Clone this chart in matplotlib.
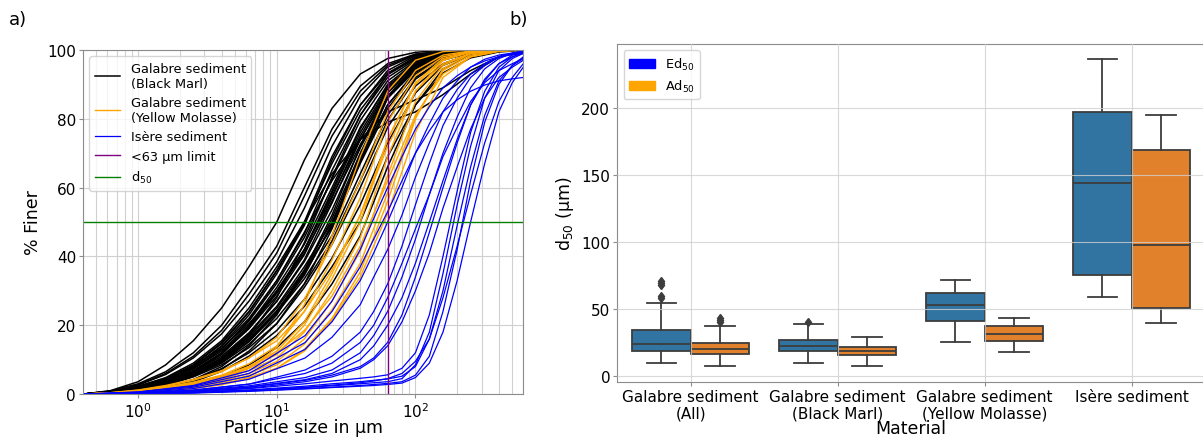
import matplotlib.pyplot as plt
from matplotlib.patches import Patch

# ========================
# DATA
# ========================
# particle size grids (µm) and % finer read off panel a)
SIZES = [0.4, 0.63, 1, 1.58, 2.5, 4, 6.3, 10, 15.8, 25, 40, 63, 100, 158, 250, 400, 600]
SIZES_ISERE = [0.4, 1, 2.5, 6.3, 16, 25, 40, 50, 63, 80, 100, 126, 158, 200, 250, 316,
               400, 500, 600]

BLACK_MARL = [
    [0, 1.0, 3.6, 8.5, 15.5, 25, 37, 50, 68, 83, 93, 97.5, 99.3, 99.9, 100, 100, 100],
    [0, 0.9, 3.0, 6.5, 12, 20, 31, 43, 60, 77, 89.5, 96, 98.8, 99.7, 100, 100, 100],
    [0, 0.8, 2.7, 6, 11, 18.5, 29, 41, 57.5, 75, 88, 95.5, 98.6, 99.6, 100, 100, 100],
    [0, 0.8, 2.6, 5.7, 10.5, 17.5, 27, 38.5, 54, 72, 86.5, 95, 98.5, 99.6, 100, 100, 100],
    [0, 0.7, 2.2, 4.8, 9, 15.5, 25, 37, 50, 69, 84, 93.3, 97.7, 99.4, 99.9, 100, 100],
    [0, 0.5, 1.8, 4, 7.8, 14, 23, 35, 49, 68, 84, 94, 98.3, 99.6, 100, 100, 100],
    [0, 0.6, 1.9, 4.2, 8, 13.8, 22, 33, 46.5, 65, 81, 92, 97.2, 99.2, 99.9, 100, 100],
    [0, 0.6, 1.6, 3.5, 6.8, 12, 20, 31, 43.5, 60, 77.5, 89.5, 96, 98.8, 99.7, 100, 100],
    [0, 0.5, 1.5, 3.3, 6.4, 11.5, 19.5, 30, 42, 59, 77, 90, 96.5, 99, 99.8, 100, 100],
    [0, 0.6, 1.7, 3.6, 6.8, 11.8, 19, 28.5, 40.5, 57, 75, 88.5, 95.5, 98.6, 99.7, 100, 100],
    [0, 0.5, 1.4, 3.1, 6, 10.5, 17.5, 27, 39, 55.5, 74, 88, 95.5, 98.7, 99.7, 100, 100],
    [0, 0.6, 1.5, 3.2, 6, 10.5, 17, 25.5, 37, 50, 68.5, 84, 93.5, 97.8, 99.4, 99.9, 100],
    [0, 0.5, 1.4, 3.0, 5.6, 10, 16.5, 25, 36, 48.5, 67, 83, 93, 97.6, 99.3, 99.9, 100],
    [0, 0.6, 1.6, 3.3, 6, 10.2, 16, 23.5, 33.5, 46, 64, 81, 92, 97.2, 99.2, 99.8, 100],
    [0, 0.5, 1.3, 2.8, 5.2, 9, 14.5, 22, 32, 44.5, 62, 79.5, 91.5, 97, 99.2, 99.8, 100],
    [0, 0.5, 1.2, 2.6, 5, 8.5, 13.5, 20.5, 31, 43.5, 60, 77.5, 89.5, 96, 98.8, 99.7, 100],
    [0, 0.3, 0.9, 2.1, 4.2, 8, 14, 23, 36, 52, 72, 88, 96, 99, 99.8, 100, 100],
    [0, 0.4, 1.1, 2.6, 5.2, 9.8, 17, 28, 44, 63, 81, 93, 98, 99.6, 100, 100, 100],
    [0, 0.3, 0.8, 1.9, 3.8, 7.2, 12.5, 20.5, 32, 48, 68, 86, 95.5, 98.8, 99.8, 100, 100],
    [0, 0.8, 2.3, 4.6, 8.2, 13.3, 20.5, 29.5, 41, 56, 72.5, 86, 94, 98, 99.5, 100, 100],
    [0, 0.4, 1.0, 2.2, 4.2, 7.4, 12, 18.5, 27.5, 39.5, 55, 73, 87.5, 95.5, 98.8, 99.7, 100],
    [0, 0.3, 0.8, 1.8, 3.6, 6.6, 11, 17, 25.5, 37, 50, 69, 84, 93.3, 97.7, 99.4, 99.9],
    [0, 0.2, 0.6, 1.4, 2.8, 5, 8.5, 13.5, 21, 32, 46, 66, 84, 94.5, 98.5, 99.7, 100],
    [0, 0.6, 2, 4.5, 8.5, 15, 24, 36, 50, 64, 74, 79, 82, 87, 93, 98, 99.5],
    [0, 0.5, 1.6, 3.8, 7.5, 13, 21.5, 33, 47, 62, 74, 82, 85.5, 89, 94, 98, 99.7],
    [0, 0.7, 2.0, 4.4, 8.4, 14.6, 23.8, 35.8, 49.5, 67, 82.5, 92.8, 97.5, 99.3, 99.9, 100, 100],
    [0, 0.6, 1.7, 3.8, 7.4, 13, 21.2, 32.2, 45.5, 62.5, 79.5, 91, 96.8, 99, 99.8, 100, 100],
    [0, 0.5, 1.5, 3.4, 6.6, 11.7, 19.2, 29.3, 41.8, 58.3, 76, 89, 96, 98.9, 99.8, 100, 100],
    [0, 0.6, 1.6, 3.4, 6.4, 11, 17.8, 27, 38.5, 53.5, 71.5, 86.5, 94.8, 98.4, 99.6, 100, 100],
    [0, 0.5, 1.4, 3.0, 5.7, 9.8, 16, 24.2, 35, 49, 67.5, 84, 93.6, 98, 99.5, 99.9, 100],
    [0, 0.4, 1.2, 2.7, 5.2, 9.2, 15.2, 23.5, 34.5, 49.5, 69.5, 86.5, 95, 98.6, 99.7, 100, 100],
    [0, 0.6, 1.8, 3.9, 7.3, 12.5, 20, 30, 42, 57.5, 74, 87.5, 95, 98.5, 99.6, 100, 100],
    [0, 0.4, 1.3, 2.9, 5.5, 9.5, 15.5, 24, 35.5, 51, 70, 86, 94.5, 98.4, 99.6, 100, 100],
]

YELLOW_MOLASSE = [
    [0, 0.3, 0.9, 1.8, 3.0, 4.8, 7.5, 11.5, 20, 33.5, 50, 74, 90.5, 97.5, 99.5, 99.9, 100],
    [0, 0.3, 1.0, 2.0, 3.4, 5.5, 8.8, 14, 24, 39, 57, 79, 92.5, 98, 99.6, 100, 100],
    [0, 0.4, 1.1, 2.3, 4, 6.5, 10.5, 16.5, 27.5, 43.5, 62, 82, 94, 98.5, 99.7, 100, 100],
    [0, 0.3, 0.8, 1.6, 2.7, 4.3, 6.8, 10.5, 18, 30, 45.5, 69, 88, 97, 99.4, 99.9, 100],
    [0, 0.2, 0.7, 1.4, 2.4, 3.8, 6, 9.5, 16, 27, 41.5, 63.5, 85, 95.5, 99, 99.8, 100],
    [0, 0.2, 0.6, 1.2, 2.1, 3.4, 5.4, 8.5, 14.5, 24.5, 38, 58.5, 80.5, 94, 98.5, 99.7, 100],
    [0, 0.2, 0.5, 1.0, 1.8, 3.0, 4.8, 7.5, 12.5, 21.5, 34, 52.5, 76, 92, 98, 99.6, 100],
    [0, 0.4, 1.2, 2.5, 4.3, 6.8, 10.5, 15.5, 24, 36, 52, 72, 88, 96, 99, 99.8, 100],
    [0, 0.3, 1.0, 2.0, 3.4, 5.3, 8, 12, 18.5, 28.5, 43, 62, 81, 93, 98, 99.6, 100],
    [0, 0.2, 0.6, 1.3, 2.4, 4.2, 7.5, 13.5, 26, 46, 69, 88, 97, 99.5, 100, 100, 100],
    [0, 0.3, 0.8, 1.7, 3.0, 5, 8, 12.5, 21, 35, 52, 74, 90, 97, 99.4, 99.9, 100],
    [0, 0.1, 0.4, 0.9, 1.6, 2.7, 4.5, 7.5, 13, 22, 35.5, 56, 80, 94.5, 99, 99.9, 100],
]

ISERE = [
    [0, 0.1, 0.4, 0.9, 1.6, 2.0, 2.5, 2.8, 3.1, 3.6, 5.5, 11, 24, 42, 62, 79, 90, 95.5, 98],
    [0, 0.1, 0.4, 1.0, 1.9, 2.4, 3.0, 3.3, 3.6, 4.5, 8.5, 18, 35, 55, 72, 86, 94, 97.5, 99],
    [0, 0.1, 0.5, 1.2, 2.3, 3.0, 3.6, 4.0, 4.4, 5.2, 8, 16, 30, 49, 66, 81, 91, 95.5, 97.5],
    [0, 0.1, 0.3, 0.8, 1.5, 1.9, 2.3, 2.5, 2.8, 3.2, 4.8, 9, 18, 33, 50, 67, 82, 90.5, 95],
    [0, 0.2, 0.7, 1.6, 3.0, 3.8, 4.6, 5.0, 5.6, 7.5, 12, 23, 40, 59, 76, 88, 95, 98, 99.3],
    [0, 0.1, 0.5, 1.1, 2.0, 2.6, 3.3, 3.8, 4.5, 6, 9.5, 16, 28, 43, 58, 73, 85, 92, 96],
    [0, 0.2, 0.9, 2.1, 4.2, 6, 10, 14, 20, 28, 38, 50, 62, 74, 84, 91, 96, 98.5, 99.5],
    [0, 0.3, 1.0, 2.4, 4.8, 7, 12, 17, 24, 34, 45, 58, 70, 80.5, 89, 94.5, 97.5, 99, 99.7],
    [0, 0.2, 0.7, 1.7, 3.6, 5, 7.5, 10, 14, 21, 30, 41, 54, 66, 77, 86, 92, 95, 97],
    [0, 0.3, 1.2, 2.9, 6, 9, 15, 20, 28, 38, 48, 58, 69, 77.5, 85, 90.5, 94, 96, 97.5],
    [0, 0.2, 0.8, 2, 4, 5.5, 8, 10.5, 15, 23, 34, 47, 60, 73, 84, 91.5, 96, 98, 99],
    [0, 0.6, 2.3, 6, 15, 24, 37, 45, 53, 62, 70, 76.5, 82, 85.5, 88, 89.8, 91, 91.6, 92],
    [0, 0.5, 2, 5.2, 13, 21, 33, 41, 50, 60, 70, 78.5, 86, 91, 95, 97.3, 98.5, 99.1, 99.5],
    [0, 0.4, 1.6, 4.3, 10.5, 16.5, 26, 34, 42, 52, 63, 73, 82, 88.5, 93, 96, 98, 99, 99.5],
    [0, 0.3, 1.1, 2.9, 7, 11, 18, 24, 32, 43, 55, 67, 78, 86, 92, 95.5, 98, 99, 99.6],
    [0, 0.6, 2.5, 6.8, 17, 27, 42, 51, 60, 69, 77, 83.5, 89, 92.5, 95, 96.8, 98, 98.6, 99],
]

LIMIT_63 = 63
D50_LEVEL = 50

# box statistics read off panel b)
CATEGORIES = ["Galabre sediment\n(All)", "Galabre sediment\n(Black Marl)",
              "Galabre sediment\n(Yellow Molasse)", "Isère sediment"]

ED50_LO = [9.5, 9.5, 25.6, 59.2]
ED50_Q1 = [18.9, 18.4, 41.3, 75.4]
ED50_MED = [23.9, 22.6, 53.2, 144]
ED50_Q3 = [34.3, 27.1, 61.9, 197.5]
ED50_HI = [54.7, 38.8, 71.9, 236.6]
ED50_FLIERS = [[58.5, 60, 68, 69.5, 71], [40], [], []]

AD50_LO = [7.7, 7.7, 18.1, 39.8]
AD50_Q1 = [16.4, 15.7, 26.3, 50.5]
AD50_MED = [19.9, 18.4, 31.3, 97.8]
AD50_Q3 = [24.6, 21.4, 37.5, 169]
AD50_HI = [37.1, 28.9, 43, 194.8]
AD50_FLIERS = [[40, 41.5, 43], [], [], []]


def box_stats(lo, q1, med, q3, hi, fliers):
    return [dict(whislo=a, q1=b, med=c, q3=d, whishi=e, fliers=f)
            for a, b, c, d, e, f in zip(lo, q1, med, q3, hi, fliers)]


# ========================
# PLOT
# ========================
plt.rcParams["font.family"] = "DejaVu Sans"
GRID = "#d0d0d0"
SPINE = "#8c8c8c"

fig = plt.figure(figsize=(12.03, 4.39), dpi=100)
ax1 = fig.add_axes([0.069, 0.100, 0.366, 0.784])
ax2 = fig.add_axes([0.513, 0.1276, 0.4888, 0.770])

# --- a) grain size curves
for i, pct in enumerate(BLACK_MARL):
    ax1.plot(SIZES, pct, color="black", lw=1.1,
             label="Galabre sediment\n(Black Marl)" if i == 0 else None)
for i, pct in enumerate(YELLOW_MOLASSE):
    ax1.plot(SIZES, pct, color="orange", lw=1,
             label="Galabre sediment\n(Yellow Molasse)" if i == 0 else None)
for i, pct in enumerate(ISERE):
    ax1.plot(SIZES_ISERE, pct, color="blue", lw=0.9,
             label="Isère sediment" if i == 0 else None)

ax1.axvline(LIMIT_63, color="purple", lw=1, label="<63 µm limit")
ax1.axhline(D50_LEVEL, color="green", lw=1, label="d$_{50}$")

ax1.set_xscale("log")
ax1.set_xlim(0.4, 600)
ax1.set_ylim(0, 100)
ax1.set_yticks([0, 20, 40, 60, 80, 100])
ax1.grid(True, which="both", axis="x", color=GRID, lw=0.8)
ax1.grid(True, which="major", axis="y", color=GRID, lw=0.8)
ax1.tick_params(axis="both", which="major", labelsize=11, length=3, pad=2, color=SPINE)
ax1.tick_params(axis="x", which="minor", length=0)
ax1.set_xlabel("Particle size in µm", fontsize=12.5, labelpad=-1)
ax1.set_ylabel("% Finer", fontsize=12.5)
ax1.legend(loc="upper left", fontsize=9.3)
for s in ax1.spines.values():
    s.set_color(SPINE)

# --- b) d50 boxes
ed_stats = box_stats(ED50_LO, ED50_Q1, ED50_MED, ED50_Q3, ED50_HI, ED50_FLIERS)
ad_stats = box_stats(AD50_LO, AD50_Q1, AD50_MED, AD50_Q3, AD50_HI, AD50_FLIERS)
pos = list(range(len(CATEGORIES)))
line_kw = dict(color="#3d3d3d", lw=1.3)
flier_kw = dict(marker="d", markersize=4.5, markerfacecolor="#3d3d3d",
                markeredgecolor="#3d3d3d", linestyle="none")

for stats, shift, fill in [(ed_stats, -0.2, "#3274a1"), (ad_stats, 0.2, "#e1812c")]:
    ax2.bxp(stats, positions=[p + shift for p in pos], widths=0.4,
            patch_artist=True, manage_ticks=False,
            boxprops=dict(facecolor=fill, edgecolor="#3d3d3d", lw=1.3),
            medianprops=line_kw, whiskerprops=line_kw, capprops=line_kw,
            flierprops=flier_kw)

ax2.set_axisbelow(False)
ax2.set_xlim(-0.5, 3.5)
ax2.set_ylim(-4.5, 248)
ax2.set_xticks(pos)
ax2.set_xticklabels(CATEGORIES, linespacing=1.1)
ax2.set_yticks([0, 50, 100, 150, 200])
ax2.grid(True, color=GRID, lw=0.8, alpha=0.8)
ax2.tick_params(labelsize=11, length=3, pad=2, color=SPINE)
ax2.set_xlabel("Material", fontsize=12.5, labelpad=-1)
ax2.set_ylabel("d$_{50}$ (µm)", fontsize=12.5)
ax2.legend(handles=[Patch(color="blue", label="Ed$_{50}$"),
                    Patch(color="orange", label="Ad$_{50}$")],
           loc="upper left", fontsize=9.3)
for s in ax2.spines.values():
    s.set_color(SPINE)

fig.text(0.015, 0.955, "a)", fontsize=13, va="center", ha="center")
fig.text(0.431, 0.955, "b)", fontsize=13, va="center", ha="center")

fig.savefig("out.png", dpi=100)
